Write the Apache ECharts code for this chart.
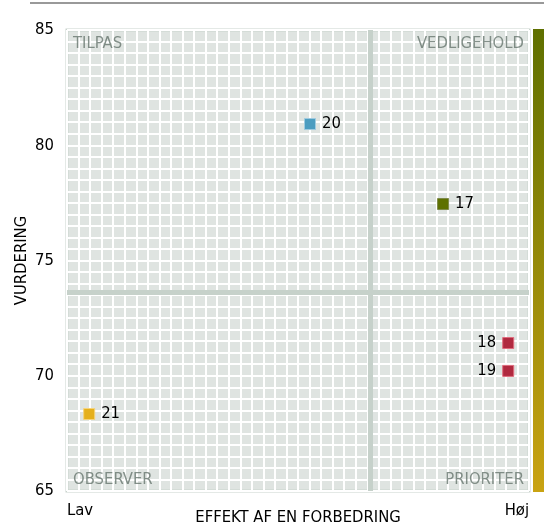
<!DOCTYPE html>
<html><head><meta charset="utf-8">
<script src="https://cdn.jsdelivr.net/npm/echarts@6/dist/echarts.min.js"></script>
<style>html,body{margin:0;padding:0;background:#fff}#c{width:544px;height:523px}</style>
</head><body><div id="c"></div>
<script>
var pointIds = ['20','17','18','19','21'];
var effekt = [52.6, 81.4, 95.5, 95.5, 4.8];
var vurdering = [80.92, 77.45, 71.42, 70.21, 68.34];
var colors = ['#4b9cc0', '#5e7100', '#b0293f', '#b0293f', '#e5b01c'];
var borderColors = ['#9fcbe0', '#7d8a4a', '#e06c7e', '#e06c7e', '#f5d37a'];
var labelSide = ['right','right','left','left','right'];
var xTickLabels = ['Lav','Høj'];
var quadrantNames = ['TILPAS','VEDLIGEHOLD','OBSERVER','PRIORITER'];
var dividerX = 65.6, dividerY = 73.63;

var font = 'DejaVu Sans Condensed, DejaVu Sans, sans-serif';
var chart = echarts.init(document.getElementById('c'));
var pts = pointIds.map(function(id,i){
  return {value:[effekt[i], vurdering[i]], name:id,
    itemStyle:{color:colors[i], borderColor:borderColors[i], borderWidth:1, opacity:1},
    label:{position:labelSide[i]}};
});
var qpos = [[0,85,'left','top'],[100,85,'right','top'],[0,65,'left','bottom'],[100,65,'right','bottom']];
var qdata = quadrantNames.map(function(n,i){
  var p = qpos[i];
  return {value:[p[0],p[1]], name:n, label:{align:p[2], verticalAlign:p[3],
    offset:[p[2]==='left'?6:-5, p[3]==='top'?5:-3]}};
});
chart.setOption({
  animation:false,
  grid:{left:67, right:15, top:30, bottom:32, outerBoundsMode:'none', containLabel:false,
    show:true, backgroundColor:'#dfe4e1', borderColor:'#c9d4cd', borderWidth:3},
  xAxis:{type:'value', min:0, max:100, interval:50,
    name:'EFFEKT AF EN FORBEDRING', nameLocation:'middle', nameGap:18, nameMoveOverlap:false,
    nameTextStyle:{fontFamily:font, fontSize:16.5, color:'#000'},
    axisLine:{show:false}, axisTick:{show:false},
    axisLabel:{fontFamily:font, fontSize:16.5, color:'#000', margin:11,
      formatter:function(v){return v===0?xTickLabels[0]:(v===100?xTickLabels[1]:'');},
      alignMinLabel:'left', alignMaxLabel:'right'},
    splitLine:{show:true, lineStyle:{color:'#fff', width:2}},
    minorTick:{show:false, splitNumber:20},
    minorSplitLine:{show:true, lineStyle:{color:'#fff', width:2}}},
  yAxis:{type:'value', min:65, max:85, interval:5,
    name:'VURDERING', nameLocation:'middle', nameGap:37, nameRotate:90, nameMoveOverlap:false,
    nameTextStyle:{fontFamily:font, fontSize:16.5, color:'#000'},
    axisLine:{show:false}, axisTick:{show:false},
    axisLabel:{fontFamily:font, fontSize:16.5, color:'#000', margin:13},
    splitLine:{show:true, lineStyle:{color:'#fff', width:2}},
    minorTick:{show:false, splitNumber:10},
    minorSplitLine:{show:true, lineStyle:{color:'#fff', width:2}}},
  graphic:[
    {type:'line', shape:{x1:30,y1:3,x2:544,y2:3}, style:{stroke:'#999', lineWidth:2}},
    {type:'rect', shape:{x:533, y:29, width:11, height:463},
     style:{fill:new echarts.graphic.LinearGradient(0,0,0,1,[{offset:0,color:'#5f7000'},{offset:1,color:'#c9a312'}])}}
  ],
  series:[
    {type:'scatter', data:qdata, symbolSize:0, silent:true,
      label:{show:true, formatter:'{b}', fontFamily:font, fontSize:16.5, color:'#67766e', position:'inside'},
      markLine:{silent:true, symbol:'none', label:{show:false},
        lineStyle:{color:'#c6d1ca', width:5, type:'solid'},
        data:[{xAxis:dividerX},{yAxis:dividerY}]}, z:1},
    {type:'scatter', data:pts, symbol:'rect', symbolSize:11,
      label:{show:true, formatter:'{b}', fontFamily:font, fontSize:16.5, color:'#000', distance:6}, z:5}
  ]
});
</script></body></html>
